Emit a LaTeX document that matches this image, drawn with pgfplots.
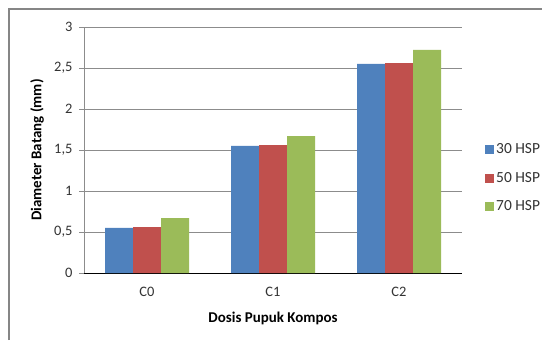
\documentclass[border=0pt]{standalone}
\usepackage{pgfplots}
\pgfplotsset{compat=1.18}
\usepackage{fontspec}
\setmainfont{Carlito}
\definecolor{s1}{HTML}{4F81BD}
\definecolor{s2}{HTML}{C0504D}
\definecolor{s3}{HTML}{9BBB59}
\definecolor{gridc}{HTML}{8C8C8C}
\definecolor{framec}{HTML}{868686}
\definecolor{baseline}{HTML}{BFBFBF}

\begin{document}
\begin{tikzpicture}[x=1bp,y=1bp]
\useasboundingbox (0,0) rectangle (542,340);
% chart area frame
\draw[framec, line width=1.2bp] (9,0) -- (9,331) -- (542,331);
\begin{axis}[
  at={(84bp,67bp)}, anchor=south west,
  width=378bp, height=246bp, scale only axis,
  ybar=0pt, bar width=28bp,
  xmin=-0.5, xmax=2.5, ymin=0, ymax=3,
  xtick=data, xticklabels={C0,C1,C2},
  ytick={0,0.5,1,1.5,2,2.5,3},
  axis lines*=left,
  x axis line style={baseline, line width=1bp},
  y axis line style={gridc, line width=0.8bp},
  ymajorgrids, grid style={gridc, line width=0.8bp},
  xtick style={draw=none},
  ytick style={gridc, line width=0.8bp},
  tick align=outside, major tick length=5bp,
  /pgf/number format/use comma,
  /pgf/number format/assume math mode=true,
  yticklabel style={font=\fontsize{14.5}{14.5}\selectfont, xshift=-3bp, text=black!80},
  xticklabel style={font=\fontsize{14.5}{14.5}\selectfont, yshift=-6bp, text=black!80},
  xlabel={\textbf{Dosis Pupuk Kompos}},
  ylabel={\textbf{Diameter Batang (mm)}},
  xlabel style={font=\fontsize{15}{15}\selectfont, at={(axis description cs:0.5,-0.183)}, anchor=center},
  ylabel style={font=\fontsize{15}{15}\selectfont, at={(axis description cs:-0.124,0.5)}, anchor=center},
  legend style={at={(1.053,0.386)}, anchor=west, draw=none, fill=none,
    font=\fontsize{15.5}{15.5}\selectfont, row sep=13bp, cells={anchor=west}, text=black!80},
  legend image code/.code={\fill[#1] (0bp,-4.5bp) rectangle (9bp,4.5bp);},
]
\addplot[fill=s1, draw=none] coordinates {(0,0.55) (1,1.55) (2,2.55)};
\addplot[fill=s2, draw=none] coordinates {(0,0.56) (1,1.56) (2,2.56)};
\addplot[fill=s3, draw=none] coordinates {(0,0.67) (1,1.67) (2,2.72)};
\legend{30 HSP, 50 HSP, 70 HSP}
\end{axis}
\end{tikzpicture}
\end{document}
